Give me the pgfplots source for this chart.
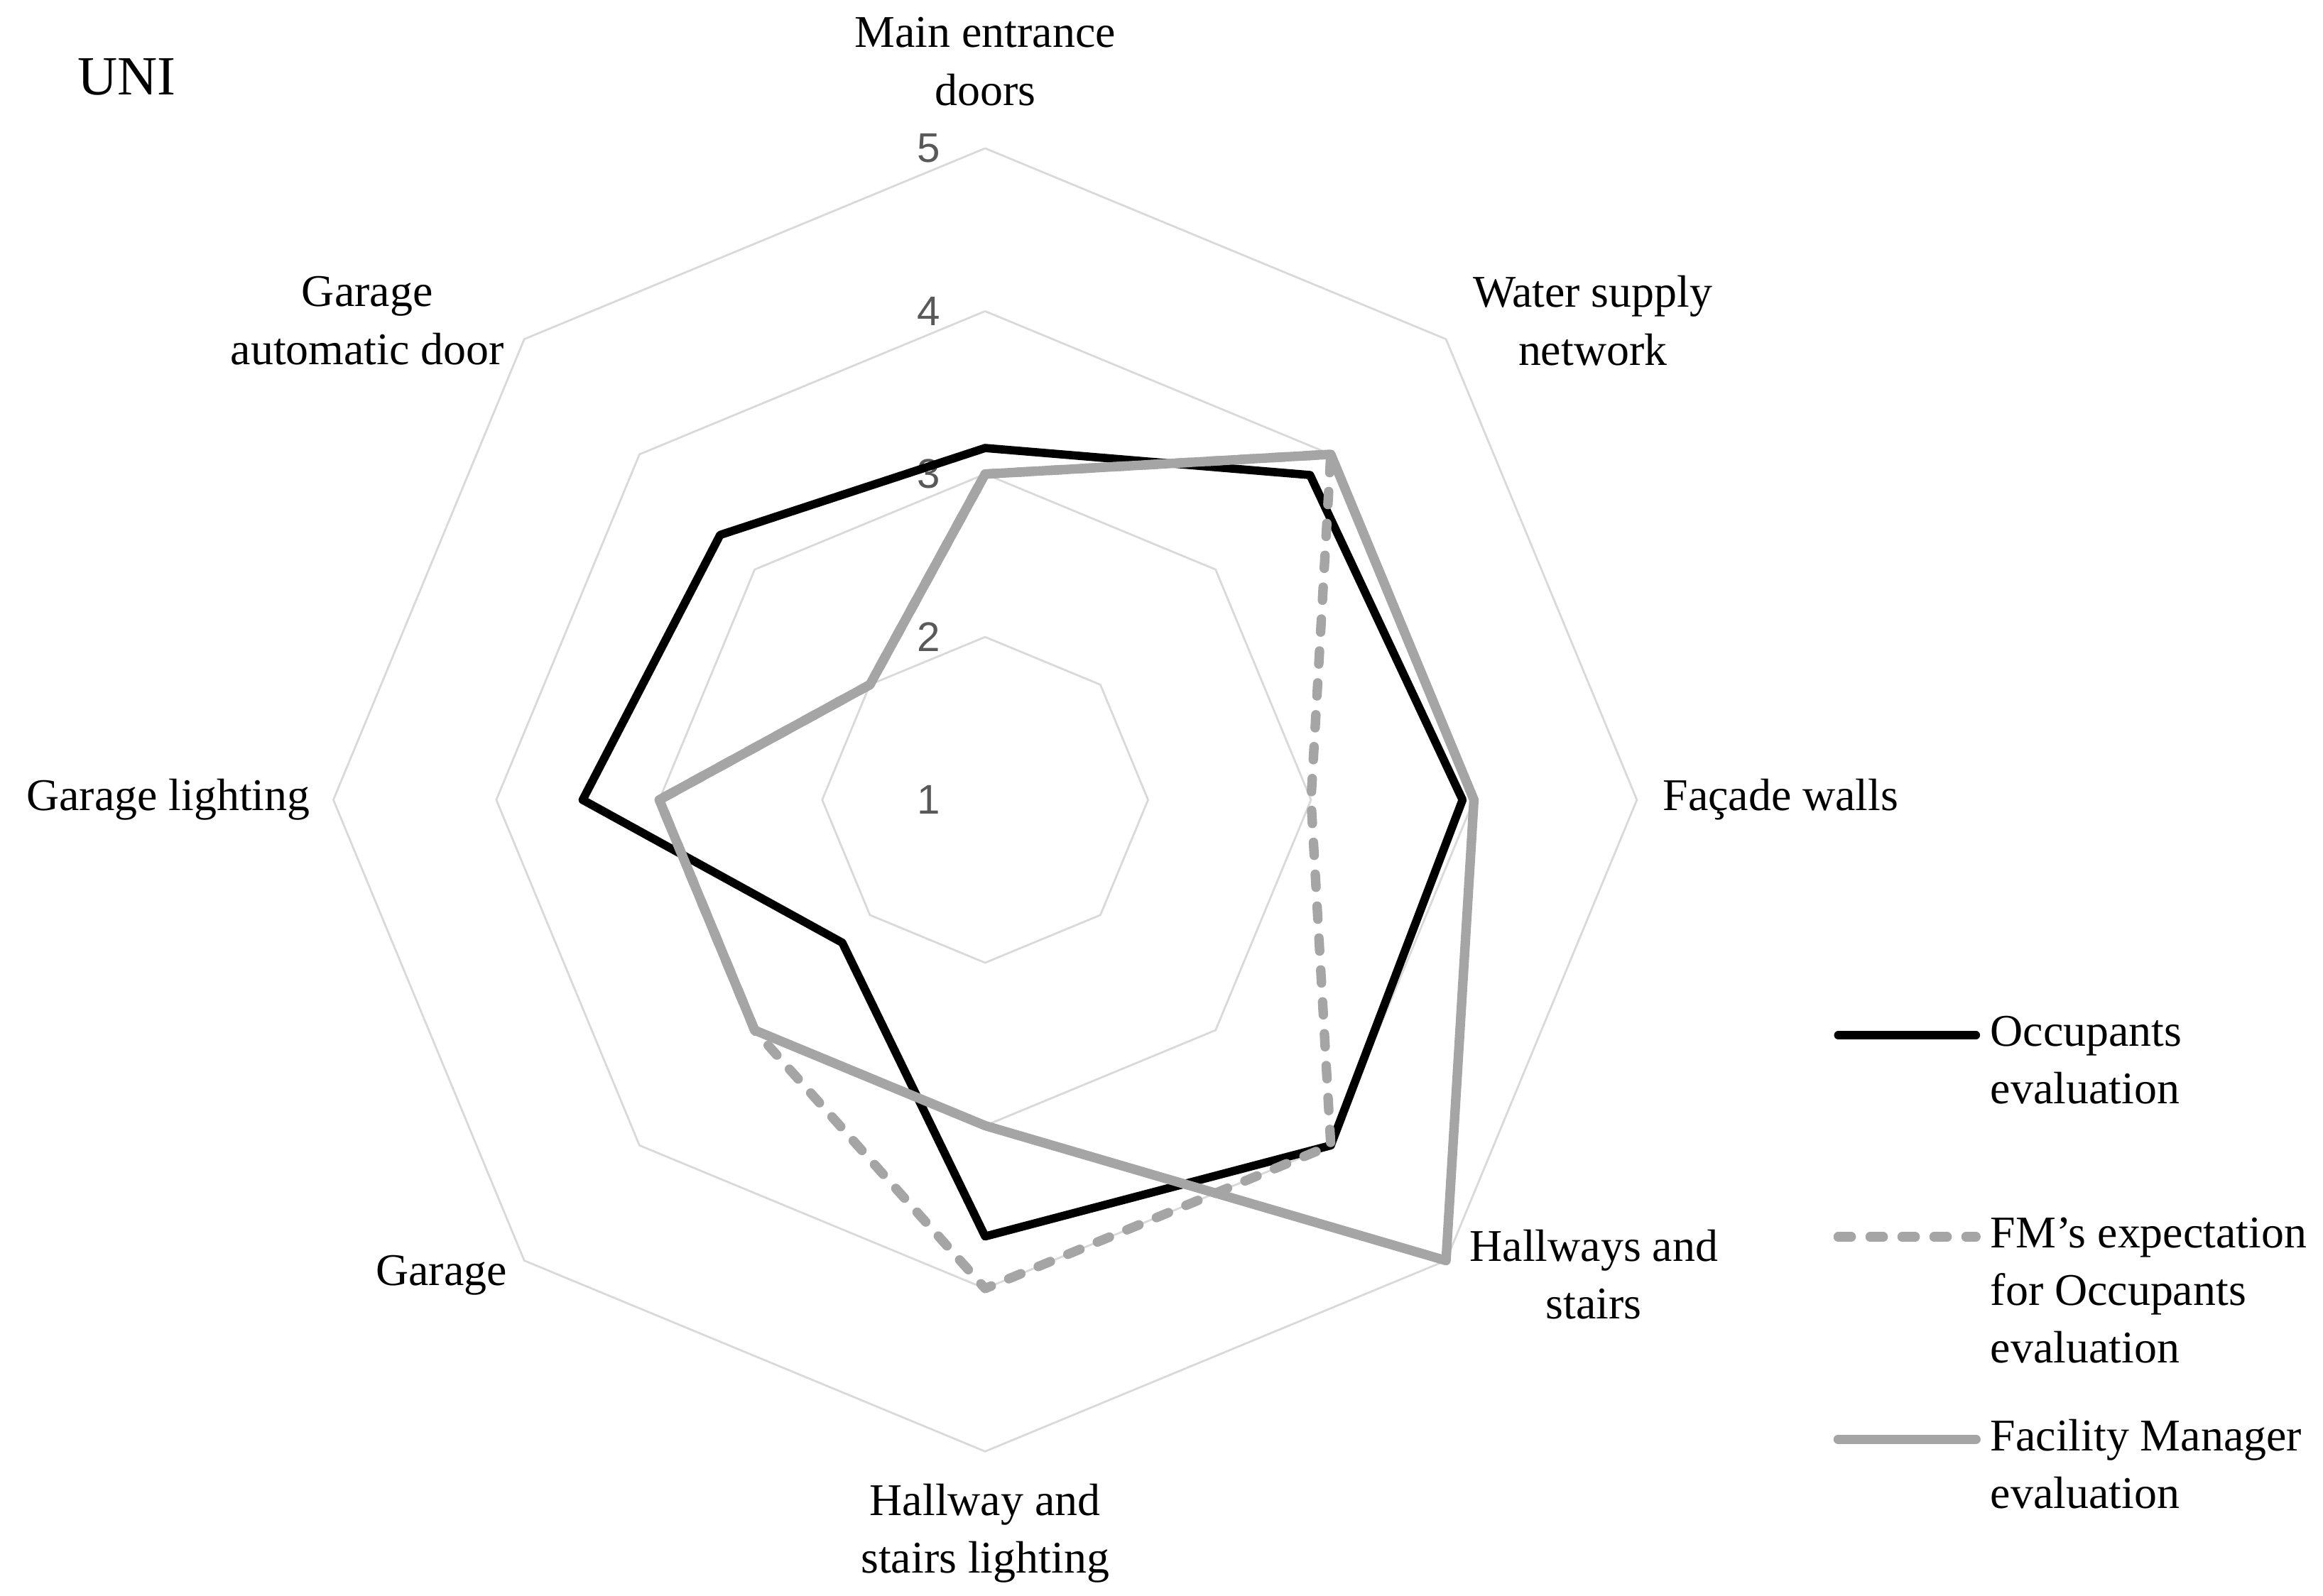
\documentclass[border=0pt]{standalone}
\usepackage{pgfplots}
\pgfplotsset{compat=1.18}
\usepgfplotslibrary{polar}
\usepackage{fontspec}
\setmainfont{Liberation Serif}
\newfontfamily\ticksans{Liberation Sans}
\definecolor{gridc}{HTML}{D9D9D9}
\definecolor{fmgrey}{HTML}{A5A5A5}
\definecolor{tickc}{HTML}{595959}
\newcommand{\lbl}{\fontsize{11.5}{14.6}\selectfont}
\newcommand{\lgd}[1]{\parbox[t]{82pt}{\raggedright\hyphenpenalty=10000 #1}}
\begin{document}
\begin{tikzpicture}
\begin{polaraxis}[
  scale only axis, width=330.4pt, height=330.4pt,
  ymin=0, ymax=4,
  hide axis,
  xtick=\empty, ytick=\empty,
  clip=false,
  val/.style={y filter/.expression={y-1}},
  legend style={at={(axis description cs:1.1508,0.3341)}, anchor=north west, draw=none, fill=none,
    inner sep=0pt, outer sep=0pt, nodes={inner sep=0pt, outer sep=0pt}, column sep=2.5pt, row sep=42pt,
    font=\lbl},
  legend cell align=left,
  legend image code/.code={\draw[#1] (0pt,-0.3pt) -- (34.9pt,-0.3pt);},
]
% bounding box of the whole figure
\path ([shift={(-249.7pt,-201.3pt)}]axis description cs:0.5,0.5) rectangle ([shift={(339.1pt,202.8pt)}]axis description cs:0.5,0.5);
% grid octagons
\addplot[val, gridc, line width=0.5pt, forget plot] coordinates {(90,2) (45,2) (0,2) (315,2) (270,2) (225,2) (180,2) (135,2) (90,2)};
\addplot[val, gridc, line width=0.5pt, forget plot] coordinates {(90,3) (45,3) (0,3) (315,3) (270,3) (225,3) (180,3) (135,3) (90,3)};
\addplot[val, gridc, line width=0.5pt, forget plot] coordinates {(90,4) (45,4) (0,4) (315,4) (270,4) (225,4) (180,4) (135,4) (90,4)};
\addplot[val, gridc, line width=0.5pt, forget plot] coordinates {(90,5) (45,5) (0,5) (315,5) (270,5) (225,5) (180,5) (135,5) (90,5)};
% radial tick labels
\foreach \v/\yy in {1/0,2/41.3,3/82.6,4/123.9,5/165.2}{
  \edef\temp{\noexpand\node[font=\noexpand\fontsize{10.5}{12}\noexpand\selectfont\noexpand\ticksans, text=tickc] at ([shift={(-14.3pt,\yy pt)}]axis description cs:0.5,0.5) {\v};}
  \temp
}
% category labels
\node[font=\lbl, align=center] at ([shift={(0pt,187.2pt)}]axis description cs:0.5,0.5) {Main entrance\\doors};
\node[font=\lbl, align=center] at ([shift={(154.0pt,121.5pt)}]axis description cs:0.5,0.5) {Water supply\\network};
\node[font=\lbl, anchor=west, inner sep=0pt] at ([shift={(171.6pt,0pt)}]axis description cs:0.5,0.5) {Façade walls};
\node[font=\lbl, align=center] at ([shift={(154.3pt,-120.3pt)}]axis description cs:0.5,0.5) {Hallways and\\stairs};
\node[font=\lbl, align=center] at ([shift={(0pt,-185.9pt)}]axis description cs:0.5,0.5) {Hallway and\\stairs lighting};
\node[font=\lbl, align=center] at ([shift={(-137.8pt,-120.5pt)}]axis description cs:0.5,0.5) {Garage};
\node[font=\lbl, anchor=east, inner sep=0pt] at ([shift={(-170.9pt,0pt)}]axis description cs:0.5,0.5) {Garage lighting};
\node[font=\lbl, align=center] at ([shift={(-156.6pt,121.5pt)}]axis description cs:0.5,0.5) {Garage\\automatic door};
\node[font=\fontsize{14}{16}\selectfont, anchor=west, inner sep=0pt] at ([shift={(-230.2pt,183.2pt)}]axis description cs:0.5,0.5) {UNI};
% data
\addplot[val, black, line width=2.1pt, line join=round, line cap=round] coordinates {(90,3.16) (45,3.82) (0,3.93) (315,4.0) (270,3.68) (225,2.24) (180,3.47) (135,3.30) (90,3.16)};
\addlegendentry{\lgd{Occupants\\evaluation}}
\addplot[val, fmgrey, line width=2.4pt, line join=round, line cap=round, dash pattern=on 3.3pt off 4.8pt] coordinates {(90,3) (45,4) (0,3) (315,4) (270,4) (225,3) (180,3) (135,2) (90,3)};
\addlegendentry{\lgd{FM’s expectation\\for Occupants\\evaluation}}
\addplot[val, fmgrey, line width=2.4pt, line join=round, line cap=round] coordinates {(90,3) (45,4) (0,4) (315,5) (270,3) (225,3) (180,3) (135,2) (90,3)};
\addlegendentry{\lgd{Facility Manager\\evaluation}}
\end{polaraxis}
\end{tikzpicture}
\end{document}
